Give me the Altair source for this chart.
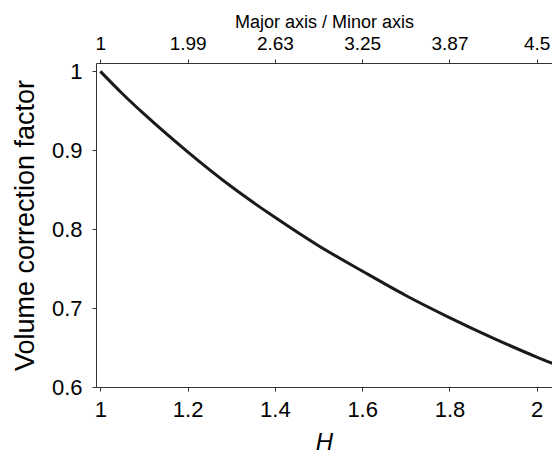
import json
import altair as alt
import pandas as pd

# Data
H = [1.0, 1.05, 1.1, 1.2, 1.3, 1.4, 1.5, 1.6, 1.7, 1.8, 1.9, 2.0, 2.05]
factor = [1.0, 0.972, 0.946, 0.898, 0.854, 0.815, 0.779, 0.747, 0.716, 0.688, 0.662, 0.638, 0.627]
x_ticks = [1, 1.2, 1.4, 1.6, 1.8, 2]
top_labels = ["1", "1.99", "2.63", "3.25", "3.87", "4.5"]
y_ticks = [0.6, 0.7, 0.8, 0.9, 1.0]

df = pd.DataFrame({"H": H, "factor": factor})

FONT = "Liberation Sans"
FRAME = "#333333"

xscale = alt.Scale(domain=[0.99, 2.035], nice=False, zero=False)
yscale = alt.Scale(domain=[0.6, 1.0106], nice=False, zero=False)

common_axis = dict(
    domain=False, grid=False, tickColor=FRAME, tickSize=4, tickWidth=1,
    labelFont=FONT, labelColor="black", titleFont=FONT, titleColor="black",
    titleFontWeight="normal",
)

yaxis = alt.Axis(
    values=y_ticks, format="~g", title="Volume correction factor",
    labelFontSize=22, labelPadding=10, titleFontSize=27, titlePadding=12,
    **common_axis,
)

xaxis_bottom = alt.Axis(
    orient="bottom", values=x_ticks, format="~g", title="H",
    titleFontStyle="italic", labelFontSize=22, labelPadding=8,
    titleFontSize=24, titleBaseline="alphabetic", titleY=62, **common_axis,
)

label_list = json.dumps(top_labels)
xaxis_top = alt.Axis(
    orient="top", values=x_ticks,
    labelExpr=f"{label_list}[round((datum.value - 1) * 5)]",
    title="Major axis / Minor axis", labelFontSize=19, labelPadding=6,
    titleFontSize=18, titleBaseline="alphabetic", titleY=-36, **common_axis,
)

line = alt.Chart(df).mark_line(
    color="#1a1a1a", strokeWidth=3, interpolate="monotone", clip=True
).encode(
    x=alt.X("H:Q", scale=xscale, axis=xaxis_bottom),
    y=alt.Y("factor:Q", scale=yscale, axis=yaxis),
)

top = alt.Chart(df).mark_line(opacity=0, clip=True).encode(
    x=alt.X("H:Q", scale=xscale, axis=xaxis_top),
    y=alt.Y("factor:Q", scale=yscale, axis=yaxis),
)

chart = (
    alt.layer(line, top)
    .resolve_axis(x="independent")
    .properties(
        width=456, height=324, autosize="none",
        padding={"left": 88, "top": 55, "right": 0, "bottom": 68},
        background="white",
    )
    .configure_view(stroke=FRAME, strokeWidth=1)
)

chart.save("out.html", embed_options={"renderer": "svg", "actions": False})
